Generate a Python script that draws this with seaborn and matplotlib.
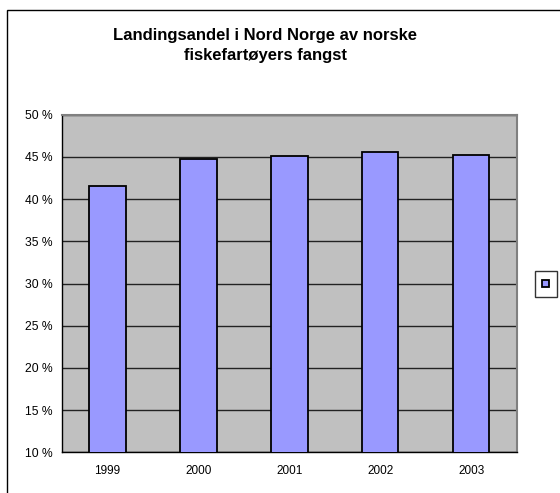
import matplotlib
matplotlib.use("Agg")
import matplotlib.pyplot as plt
import matplotlib.patches as mpatches
import numpy as np
import pandas as pd
import seaborn as sns

# Data
years = ["1999", "2000", "2001", "2002", "2003"]
shares = [41.6, 44.8, 45.05, 45.55, 45.2]
y_ticks = [10, 15, 20, 25, 30, 35, 40, 45, 50]

title = "Landingsandel i Nord Norge av norske\nfiskefartøyers fangst"

sns.set_theme(style="white")
plt.rcParams["font.family"] = ["Liberation Sans", "DejaVu Sans"]
plt.rcParams["text.color"] = "black"
plt.rcParams["xtick.color"] = "black"
plt.rcParams["ytick.color"] = "black"

W, H = 560, 493
fig = plt.figure(figsize=(W / 100, H / 100), dpi=100)

# outer chart frame (cut off at right/bottom like the reference)
fig.patches.append(mpatches.Rectangle((7 / W, -0.1), 1.2, 1.1 - 10 / H,
                                      transform=fig.transFigure, fill=False,
                                      edgecolor="black", linewidth=1.0))

left, right, top, bottom = 62, 516.7, 114.7, 452.3
ax = fig.add_axes([left / W, 1 - bottom / H, (right - left) / W, (bottom - top) / H])
ax.set_facecolor("#C0C0C0")

df = pd.DataFrame({"year": years, "share": shares})
sns.barplot(data=df, x="year", y="share", color="#9999FF", width=0.4,
            edgecolor="black", linewidth=1.3, saturation=1, ax=ax, zorder=3)

ax.set_ylim(10, 50)
ax.set_xlim(-0.5, len(years) - 0.5)
ax.set_yticks(y_ticks)
ax.set_yticklabels([f"{v} %" for v in y_ticks], fontsize=8.7)
ax.yaxis.grid(True, color="#222222", linewidth=1.0, zorder=0)
ax.set_axisbelow(True)
ax.set_xlabel("")
ax.set_ylabel("")

ax.set_xticks(range(len(years)))
ax.set_xticklabels(years, fontsize=8.5)
ax.set_xticks(np.arange(-0.5, len(years), 1), minor=True)
ax.tick_params(axis="x", which="major", length=0, pad=9)
ax.tick_params(axis="x", which="minor", length=4, width=1, color="black", direction="out")
ax.tick_params(axis="y", length=4, width=1, color="black", direction="out", pad=3)

for side in ["left", "bottom"]:
    ax.spines[side].set_color("black")
    ax.spines[side].set_linewidth(1.0)
for side in ["top", "right"]:
    ax.spines[side].set_color("#808080")
    ax.spines[side].set_linewidth(1.5)

fig.text(265 / W, 1 - 45.5 / H, title, ha="center", va="center",
         fontsize=12, fontweight="bold", linespacing=1.45)

# legend box with only the series marker
handle = mpatches.Patch(facecolor="#9999FF", edgecolor="black", linewidth=1.3)
leg = fig.legend(handles=[handle], labels=[""], loc="center",
                 bbox_to_anchor=(545.7 / W, 1 - 284 / H), frameon=True,
                 fancybox=False, handlelength=0.6, handleheight=0.6,
                 handletextpad=0, borderpad=0.7, fontsize=8)
leg.get_frame().set_edgecolor("black")
leg.get_frame().set_linewidth(1.0)

fig.savefig("out.png", dpi=100)
